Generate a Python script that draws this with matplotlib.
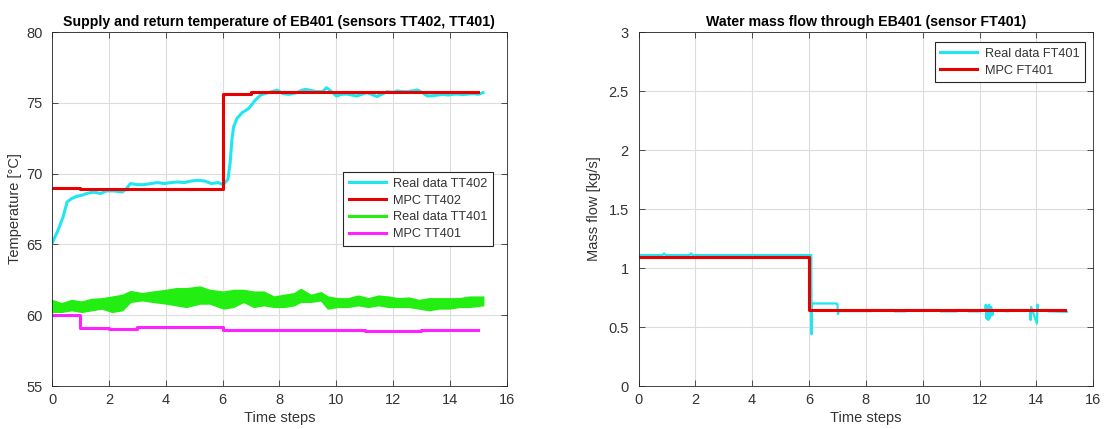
import numpy as np
import matplotlib.pyplot as plt
from matplotlib.lines import Line2D
from matplotlib.ticker import FormatStrFormatter, MultipleLocator

plt.rcParams['font.family'] = ['Liberation Sans', 'DejaVu Sans']

# MPC set points, one value per time step (step plot)
steps = [0, 1, 2, 3, 4, 5, 6, 7, 8, 9, 10, 11, 12, 13, 14, 15]
mpc_tt402 = [69.0, 68.9, 68.9, 68.9, 68.9, 68.9, 75.62, 75.78, 75.78, 75.78,
             75.78, 75.78, 75.78, 75.78, 75.78, 75.78]
mpc_tt401 = [60.0, 59.12, 59.0, 59.15, 59.15, 59.15, 58.93, 58.93, 58.93, 58.93,
             58.93, 58.86, 58.86, 58.93, 58.93, 58.93]
mpc_ft401 = [1.09, 1.09, 1.09, 1.09, 1.09, 1.09, 0.647, 0.647, 0.647, 0.647,
             0.647, 0.647, 0.647, 0.647, 0.647, 0.647]

# measured supply temperature TT402
t_tt402 = [0.0, 0.21, 0.39, 0.53, 0.69, 0.87, 1.04, 1.22, 1.46, 1.7, 1.93, 2.17,
           2.47, 2.59, 2.76, 3.0, 3.24, 3.48, 3.71, 3.95, 4.19, 4.42, 4.66, 4.9,
           5.14, 5.37, 5.61, 5.85, 6.03, 6.1, 6.19, 6.27, 6.33, 6.39, 6.51, 6.69,
           6.92, 7.04, 7.16, 7.34, 7.52, 7.75, 7.93, 8.1, 8.23, 8.34, 8.58, 8.81,
           8.94, 9.05, 9.3, 9.53, 9.66, 9.8, 10.01, 10.2, 10.37, 10.55, 10.72,
           10.9, 11.08, 11.25, 11.43, 11.6, 11.79, 12.0, 12.15, 12.3, 12.5, 12.7,
           12.86, 13.05, 13.21, 13.4, 13.57, 13.75, 13.93, 14.1, 14.28, 14.45,
           14.64, 14.85, 15.0, 15.17]
real_tt402 = [65.07, 66.0, 66.95, 68.0, 68.24, 68.4, 68.47, 68.6, 68.7, 68.6,
              68.78, 68.78, 68.7, 68.87, 69.3, 69.22, 69.22, 69.3, 69.37, 69.3,
              69.37, 69.41, 69.37, 69.48, 69.53, 69.48, 69.3, 69.37, 69.22, 69.4,
              69.6, 70.8, 72.4, 73.3, 73.9, 74.3, 74.6, 74.9, 75.2, 75.55, 75.67,
              75.8, 75.9, 75.67, 75.62, 75.6, 75.7, 75.9, 75.95, 75.9, 75.79,
              75.8, 76.07, 75.85, 75.48, 75.6, 75.62, 75.55, 75.48, 75.6, 75.72,
              75.6, 75.44, 75.6, 75.79, 75.75, 75.84, 75.8, 75.79, 75.85, 75.91,
              75.7, 75.48, 75.5, 75.55, 75.6, 75.55, 75.6, 75.62, 75.58, 75.62,
              75.65, 75.6, 75.72]

# measured return temperature TT401 (noisy band: upper / lower envelope)
t_tt401 = [0.0, 0.33, 0.69, 1.04, 1.4, 1.75, 2.11, 2.47, 2.76, 3.18, 3.53, 4.01,
           4.36, 4.72, 5.2, 5.55, 6.03, 6.38, 6.74, 7.1, 7.45, 7.81, 8.16, 8.52,
           8.75, 9.11, 9.46, 9.7, 10.06, 10.41, 10.77, 11.13, 11.48, 11.84, 12.2,
           12.55, 12.91, 13.27, 13.62, 13.98, 14.33, 14.69, 15.17]
tt401_high = [61.07, 60.84, 61.07, 60.96, 61.15, 61.19, 61.31, 61.43, 61.7, 61.55,
              61.66, 61.78, 61.9, 61.9, 62.02, 61.78, 61.66, 61.78, 61.78, 61.66,
              61.66, 61.31, 61.43, 61.55, 61.85, 61.43, 61.62, 61.31, 61.19, 61.19,
              61.38, 61.19, 61.38, 61.31, 61.19, 61.24, 61.07, 61.19, 61.19, 61.19,
              61.19, 61.31, 61.31]
tt401_low = [60.25, 60.25, 60.37, 60.25, 60.37, 60.49, 60.25, 60.37, 60.96, 61.07,
             60.96, 60.84, 60.72, 60.6, 60.84, 60.84, 60.49, 60.6, 60.96, 60.6,
             60.72, 60.6, 60.6, 60.72, 60.96, 60.96, 61.07, 60.49, 60.6, 60.6,
             60.72, 60.6, 60.72, 60.6, 60.6, 60.6, 60.49, 60.37, 60.49, 60.49,
             60.6, 60.6, 60.72]

# measured mass flow FT401
t_ft401 = [0.0, 0.85, 0.9, 0.95, 1.8, 1.85, 1.9, 6.08, 6.09, 6.1, 6.11, 6.98,
           7.0, 7.02, 7.04, 8.2, 8.22, 9.0, 9.02, 9.4, 9.42, 10.6, 10.62, 11.2,
           11.22, 11.6, 11.62, 12.0, 12.2, 12.22, 12.25, 12.28, 12.31, 12.34,
           12.37, 12.41, 12.45, 12.5, 13.0, 13.1, 13.78, 13.8, 13.82, 14.02,
           14.04, 14.06, 14.4, 14.42, 15.08]
real_ft401 = [1.11, 1.11, 1.125, 1.11, 1.11, 1.125, 1.11, 1.11, 0.44, 0.70, 0.70,
              0.70, 0.69, 0.61, 0.635, 0.635, 0.645, 0.645, 0.633, 0.633, 0.645,
              0.645, 0.633, 0.633, 0.645, 0.645, 0.633, 0.633, 0.64, 0.69, 0.57,
              0.68, 0.56, 0.69, 0.58, 0.67, 0.60, 0.645, 0.633, 0.645, 0.645,
              0.56, 0.67, 0.53, 0.69, 0.645, 0.645, 0.633, 0.63]

cyan = '#1fe6f0'
red = '#e60000'
green = '#22ee11'
magenta = '#ff22ff'
txt = '#333333'

leg_style = dict(fontsize=9.2, handlelength=2.9, handletextpad=0.6, labelspacing=0.38,
                 borderpad=0.45, fancybox=False, framealpha=1, edgecolor='#262626',
                 labelcolor=txt)

fig, (ax1, ax2) = plt.subplots(1, 2, figsize=(11.07, 4.29), dpi=100)
fig.subplots_adjust(left=0.047, right=0.9875, bottom=0.100, top=0.9254, wspace=0.29)

# left: temperatures
ax1.plot(t_tt402, real_tt402, color=cyan, lw=2.2)
ax1.plot(steps, mpc_tt402, color=red, lw=2.2, drawstyle='steps-post')
ax1.fill_between(t_tt401, tt401_low, tt401_high, color=green, lw=1.2, edgecolor=green)
ax1.plot(steps, mpc_tt401, color=magenta, lw=2.2, drawstyle='steps-post')
ax1.set_xlim(0, 16)
ax1.set_ylim(55, 80)
ax1.yaxis.set_major_locator(MultipleLocator(5))
ax1.set_title('Supply and return temperature of EB401 (sensors TT402, TT401)',
              fontsize=10.2, fontweight='bold', pad=4)
ax1.set_ylabel('Temperature [°C]', fontsize=10.5, color=txt, labelpad=3)
handles1 = [Line2D([], [], color=cyan, lw=2.2), Line2D([], [], color=red, lw=2.2),
            Line2D([], [], color=green, lw=2.2), Line2D([], [], color=magenta, lw=2.2)]
ax1.legend(handles1, ['Real data TT402', 'MPC TT402', 'Real data TT401', 'MPC TT401'],
           loc='center right', bbox_to_anchor=(0.985, 0.5), **leg_style)

# right: mass flow
ax2.plot(t_ft401, real_ft401, color=cyan, lw=1.6)
ax2.plot(steps, mpc_ft401, color=red, lw=2.2, drawstyle='steps-post')
ax2.set_xlim(0, 16)
ax2.set_ylim(0, 3)
ax2.yaxis.set_major_locator(MultipleLocator(0.5))
ax2.yaxis.set_major_formatter(FormatStrFormatter('%g'))
ax2.set_title('Water mass flow through EB401 (sensor FT401)',
              fontsize=10.2, fontweight='bold', pad=4)
ax2.set_ylabel('Mass flow [kg/s]', fontsize=10.5, color=txt, labelpad=5)
handles2 = [Line2D([], [], color=cyan, lw=2.2), Line2D([], [], color=red, lw=2.2)]
ax2.legend(handles2, ['Real data FT401', 'MPC FT401'], loc='upper right',
           bbox_to_anchor=(0.997, 0.99), **leg_style)

for ax in (ax1, ax2):
    ax.set_xlabel('Time steps', fontsize=10.5, color=txt, labelpad=3)
    ax.xaxis.set_major_locator(MultipleLocator(2))
    ax.grid(True, color='#dcdcdc', lw=0.8)
    ax.set_axisbelow(True)
    ax.tick_params(direction='in', top=True, right=True, length=4, width=0.6,
                   labelsize=10.5, labelcolor=txt, color='#333333')
    ax.tick_params(axis='x', pad=5)
    ax.tick_params(axis='y', pad=7)
    for s in ax.spines.values():
        s.set_color('#262626')
        s.set_linewidth(0.6)
    ax.get_legend().get_frame().set_linewidth(0.8)

plt.savefig('out.png')
